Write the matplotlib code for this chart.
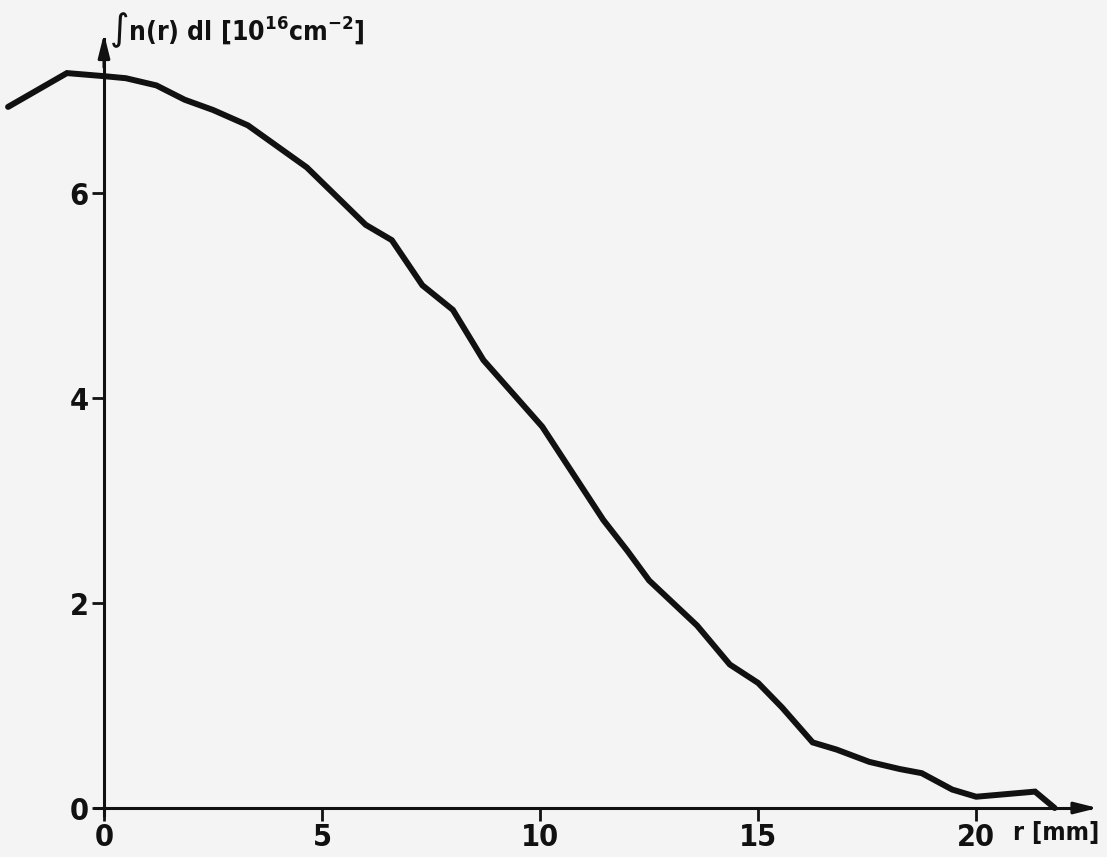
import matplotlib
matplotlib.use("Agg")
import matplotlib.pyplot as plt

# radial profile of the line density
r_mm = [-2.2, -0.85, 0.0, 0.5, 1.2, 1.85, 2.5, 3.3, 4.65, 6.0, 6.6, 7.3, 8.0,
        8.7, 10.05, 11.45, 12.0, 12.5, 13.6, 14.35, 15.0, 15.55, 16.25, 16.8,
        17.55, 18.25, 18.75, 19.45, 20.0, 21.35, 21.8]
n_int = [6.84, 7.17, 7.14, 7.12, 7.05, 6.91, 6.81, 6.66, 6.25, 5.69, 5.54, 5.10,
         4.86, 4.37, 3.72, 2.81, 2.51, 2.22, 1.78, 1.40, 1.22, 0.98, 0.64, 0.57,
         0.45, 0.38, 0.34, 0.18, 0.11, 0.16, 0.0]

x_ticks = [0, 5, 10, 15, 20]
y_ticks = [0, 2, 4, 6]

plt.rcParams["font.family"] = ["DejaVu Sans"]
plt.rcParams["font.stretch"] = "condensed"
plt.rcParams["font.weight"] = "bold"
plt.rcParams["mathtext.default"] = "bf"

fig = plt.figure(figsize=(11.07, 8.57), dpi=100, facecolor="#f4f4f4")
ax = fig.add_axes([0, 0, 1, 1])
ax.set_facecolor("#f4f4f4")
ax.set_xlim(-2.385, 23.0)
ax.set_ylim(-0.478, 7.883)

ax.plot(r_mm, n_int, color="#111111", lw=4.3, solid_joinstyle="miter",
        solid_capstyle="round", zorder=3)

# axes through the origin, drawn as arrows like the hand drawing
for side in ("top", "right"):
    ax.spines[side].set_visible(False)
ax.spines["left"].set_position(("data", 0))
ax.spines["bottom"].set_position(("data", 0))
ax.spines["left"].set_bounds(-0.07, 7.5)
ax.spines["bottom"].set_bounds(-0.2, 22.6)
for side in ("left", "bottom"):
    ax.spines[side].set_linewidth(2.2)
    ax.spines[side].set_color("#111111")

ax.annotate("", xy=(0, 7.58), xytext=(0, 7.2),
            arrowprops=dict(arrowstyle="-|>,head_length=1.4,head_width=0.35",
                            color="#111111", lw=2.2))
ax.annotate("", xy=(22.85, 0), xytext=(22.3, 0),
            arrowprops=dict(arrowstyle="-|>,head_length=1.4,head_width=0.35",
                            color="#111111", lw=2.2))

ax.set_xticks(x_ticks)
ax.set_yticks(y_ticks)
ax.set_xticklabels([str(t) for t in x_ticks])
ax.set_yticklabels([str(t) for t in y_ticks])
ax.tick_params(axis="both", direction="out", length=9, width=2.0,
               color="#111111", labelsize=22, labelcolor="#111111", pad=2)

ax.text(20.85, -0.13, "r [mm]", fontsize=18, color="#111111",
        ha="left", va="top")
ax.text(0.12, 7.49, "$\\int$n(r) dl [10$^{16}$cm$^{-2}$]", fontsize=19,
        color="#111111", ha="left", va="baseline")

fig.savefig("out.png", dpi=100, facecolor=fig.get_facecolor())
